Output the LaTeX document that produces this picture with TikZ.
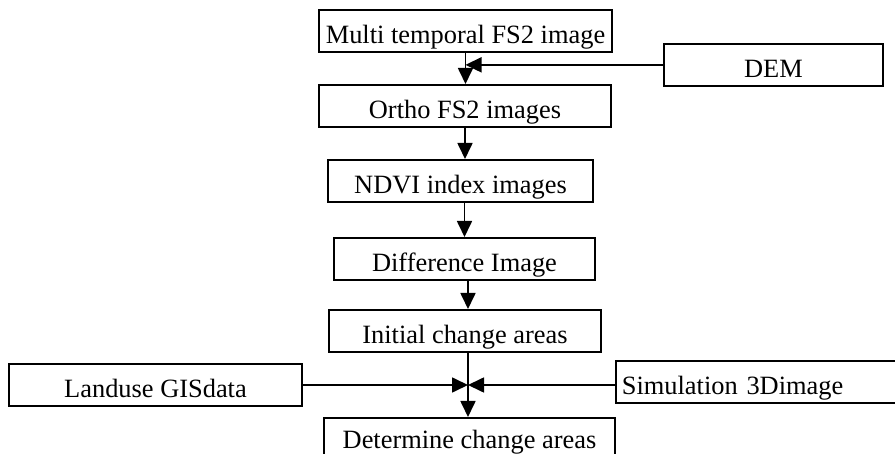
\documentclass[tikz,border=0pt]{standalone}
\usepackage{fontspec}
\setmainfont{Liberation Serif}
\usetikzlibrary{arrows.meta}
\begin{document}
\begin{tikzpicture}[x=0.5pt,y=-0.5pt,
  box/.style={draw,line width=0.85pt,inner xsep=0pt,inner ysep=0pt,
    text height=17pt,text depth=4pt,font=\fontsize{13.2pt}{15pt}\selectfont,anchor=north},
  arr/.style={line width=0.85pt,-{Triangle[length=8pt,width=7.5pt]}}]
\clip (0,0) rectangle (895,454);
\node[box,minimum width=146.5pt] (b1) at (465.5,9) {Multi temporal FS2 image};
\node[box,minimum width=146pt] (b2) at (465,84) {Ortho FS2 images};
\node[box,minimum width=132.5pt] (b3) at (460.5,159) {NDVI index images};
\node[box,minimum width=130.5pt] (b4) at (464.5,237) {Difference Image};
\node[box,minimum width=136pt] (b5) at (465,309) {Initial change areas};
\node[box,minimum width=145.5pt,text height=15.5pt] (b6) at (469.5,417) {Determine change areas};
\node[box,minimum width=109.5pt] (dem) at (773.5,43) {DEM};
\node[box,minimum width=146.5pt] (land) at (155.5,363) {Landuse GISdata};
\node[box,anchor=north west,inner xsep=3pt,text width=139pt,align=left] (sim) at (615,360) {Simulation 3Dimage};
\coordinate (j) at (468,385);
\draw[arr] (b1.south) -- (b1.south |- b2.north);
\draw[arr] (dem.west) -- (dem.west -| b1.south);
\draw[arr] (b2.south) -- (b2.south |- b3.north);
\draw[arr] (b4.north |- b3.south) -- (b4.north);
\draw[arr] (j |- b4.south) -- (j |- b5.north);
\draw[arr] (j |- b5.south) -- (j |- b6.north);
\draw[arr] (land.east |- j) -- (j);
\draw[arr] (sim.west |- j) -- (j);
\end{tikzpicture}
\end{document}
